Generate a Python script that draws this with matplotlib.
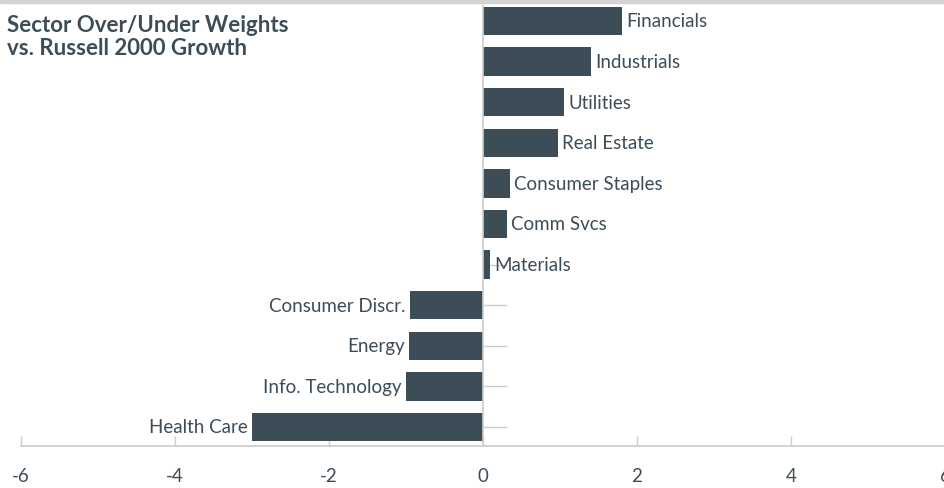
import matplotlib
matplotlib.use("Agg")
import matplotlib.pyplot as plt

plt.rcParams['font.family'] = ['Lato', 'DejaVu Sans']

sectors = ['Financials', 'Industrials', 'Utilities', 'Real Estate', 'Consumer Staples',
           'Comm Svcs', 'Materials', 'Consumer Discr.', 'Energy', 'Info. Technology',
           'Health Care']
weights = [1.80, 1.40, 1.05, 0.97, 0.35, 0.31, 0.09, -0.95, -0.96, -1.00, -3.00]
xticks = [-6, -4, -2, 0, 2, 4, 6]

bar_color = '#3d4d58'
text_color = '#3d4d58'
grid_color = '#cccccc'

fig = plt.figure(figsize=(9.45, 4.89), dpi=100)
# grey band along the top
fig.patches.append(plt.Rectangle((0, 1 - 4 / 489), 1, 4 / 489, transform=fig.transFigure,
                                 color='#d4d4d4', zorder=0))

ax = fig.add_axes([21 / 945, 42 / 489, 924 / 945, 443 / 489])
ypos = list(range(len(sectors)))
ax.barh(ypos, weights, height=0.7, color=bar_color, zorder=2)

for y, v, name in zip(ypos, weights, sectors):
    if v >= 0:
        ax.annotate(name, (v, y), xytext=(3, 0), textcoords='offset points',
                    ha='left', va='center', fontsize=13.5, color=text_color)
    else:
        ax.annotate(name, (v, y), xytext=(-3, 0), textcoords='offset points',
                    ha='right', va='center', fontsize=13.5, color=text_color)

ax.set_xlim(-6, 6)
ax.set_ylim(10.468, -0.443)
ax.set_xticks(xticks)
ax.set_xticklabels([str(t) for t in xticks])
ax.set_yticks(ypos)
ax.set_yticklabels([])

for s in ['top', 'right']:
    ax.spines[s].set_visible(False)
ax.spines['left'].set_position(('data', 0))
ax.spines['left'].set_color(grid_color)
ax.spines['bottom'].set_color(grid_color)
ax.spines['left'].set_linewidth(1.2)
ax.spines['bottom'].set_linewidth(1.2)
ax.set_axisbelow(True)
ax.tick_params(axis='y', direction='in', length=17, color=grid_color, width=1)
ax.tick_params(axis='x', direction='in', length=7, color=grid_color, width=1,
               pad=15, labelsize=13.5, labelcolor=text_color)

fig.text(7 / 945, 1 - 15 / 489, 'Sector Over/Under Weights\nvs. Russell 2000 Growth',
         ha='left', va='top', fontsize=16, fontweight='bold', color=text_color,
         linespacing=1.1)

fig.savefig('out.png', dpi=100)
